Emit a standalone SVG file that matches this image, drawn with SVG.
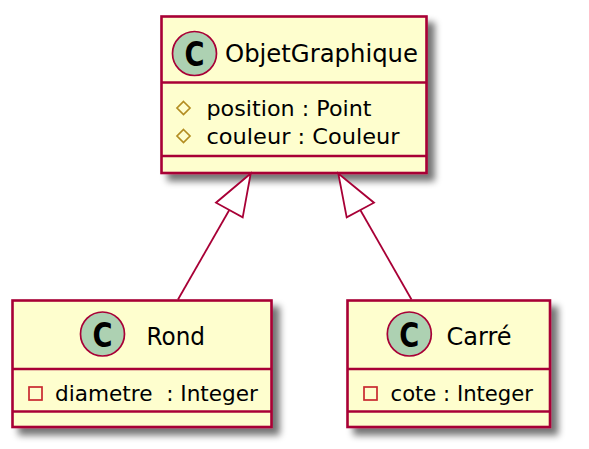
<svg xmlns="http://www.w3.org/2000/svg" width="589" height="449" viewBox="0 0 589 449">
<defs>
<filter id="sh" x="-10%" y="-10%" width="130%" height="130%">
<feGaussianBlur in="SourceAlpha" stdDeviation="3.5" result="b"/>
<feOffset in="b" dx="7" dy="7" result="o"/>
<feComponentTransfer in="o" result="s"><feFuncA type="linear" slope="0.55"/></feComponentTransfer>
<feMerge><feMergeNode in="s"/><feMergeNode in="SourceGraphic"/></feMerge>
</filter>
</defs>
<style>
.box{fill:#FEFECE;stroke:#A80036;stroke-width:2.6}
.sep{stroke:#A80036;stroke-width:2.6}
.circ{fill:#ADD1B2;stroke:#A80036;stroke-width:1.7}
.cg{font-family:"DejaVu Sans",sans-serif;font-weight:bold;font-size:34px;fill:#000}
.name{font-family:"DejaVu Sans",sans-serif;font-size:24px;fill:#000}
.attr{font-family:"DejaVu Sans",sans-serif;font-size:22px;fill:#000;white-space:pre}
.prot{fill:none;stroke:#B38D22;stroke-width:1.7}
.priv{fill:none;stroke:#C82930;stroke-width:1.7}
.edge{fill:none;stroke:#A80036;stroke-width:1.8}
.head{fill:#FFFFFF;stroke:#A80036;stroke-width:1.8}
</style>
<g id="ObjetGraphique">
<rect class="box" x="161.5" y="16.5" width="265" height="156.5" filter="url(#sh)"/>
<line class="sep" x1="161.5" y1="82.5" x2="426.5" y2="82.5"/>
<line class="sep" x1="161.5" y1="156" x2="426.5" y2="156"/>
<circle class="circ" cx="194.5" cy="53.5" r="22"/>
<text class="cg" x="194.5" y="66" text-anchor="middle" textLength="20" lengthAdjust="spacingAndGlyphs">C</text>
<text class="name" x="225" y="62" textLength="193" lengthAdjust="spacingAndGlyphs">ObjetGraphique</text>
<polygon class="prot" points="183.5,101.5 190,108 183.5,114.5 177,108"/>
<text class="attr" x="206.5" y="115.5" textLength="165" lengthAdjust="spacingAndGlyphs">position : Point</text>
<polygon class="prot" points="183.5,129.5 190,136 183.5,142.5 177,136"/>
<text class="attr" x="206.5" y="143.5" textLength="193" lengthAdjust="spacingAndGlyphs">couleur : Couleur</text>
</g>
<g id="Rond">
<rect class="box" x="12.5" y="300.5" width="259" height="126.5" filter="url(#sh)"/>
<line class="sep" x1="12.5" y1="369" x2="271.5" y2="369"/>
<line class="sep" x1="12.5" y1="411.5" x2="271.5" y2="411.5"/>
<circle class="circ" cx="102.5" cy="334" r="22"/>
<text class="cg" x="102.5" y="346.5" text-anchor="middle" textLength="20" lengthAdjust="spacingAndGlyphs">C</text>
<text class="name" x="146.5" y="344.5" textLength="58.5" lengthAdjust="spacingAndGlyphs">Rond</text>
<rect class="priv" x="29" y="387" width="13" height="13"/>
<text class="attr" x="55" y="400.5" textLength="203" lengthAdjust="spacingAndGlyphs">diametre  : Integer</text>
</g>
<g id="Carre">
<rect class="box" x="347.5" y="300.5" width="202.5" height="126.5" filter="url(#sh)"/>
<line class="sep" x1="347.5" y1="369" x2="550" y2="369"/>
<line class="sep" x1="347.5" y1="411.5" x2="550" y2="411.5"/>
<circle class="circ" cx="409.3" cy="334" r="22"/>
<text class="cg" x="409.3" y="346.5" text-anchor="middle" textLength="20" lengthAdjust="spacingAndGlyphs">C</text>
<text class="name" x="446.5" y="344.5" textLength="65" lengthAdjust="spacingAndGlyphs">Carré</text>
<rect class="priv" x="364" y="387" width="13" height="13"/>
<text class="attr" x="390.5" y="400.5" textLength="142.5" lengthAdjust="spacingAndGlyphs">cote : Integer</text>
</g>
<g id="connectors">
<line class="edge" x1="229.3" y1="210" x2="178" y2="299.5"/>
<polygon class="head" points="250.7,173.5 216,202.7 242.7,217.3"/>
<line class="edge" x1="360.3" y1="210" x2="411.5" y2="299.5"/>
<polygon class="head" points="338.3,173.5 346.7,217.3 374,202.7"/>
</g>
</svg>
